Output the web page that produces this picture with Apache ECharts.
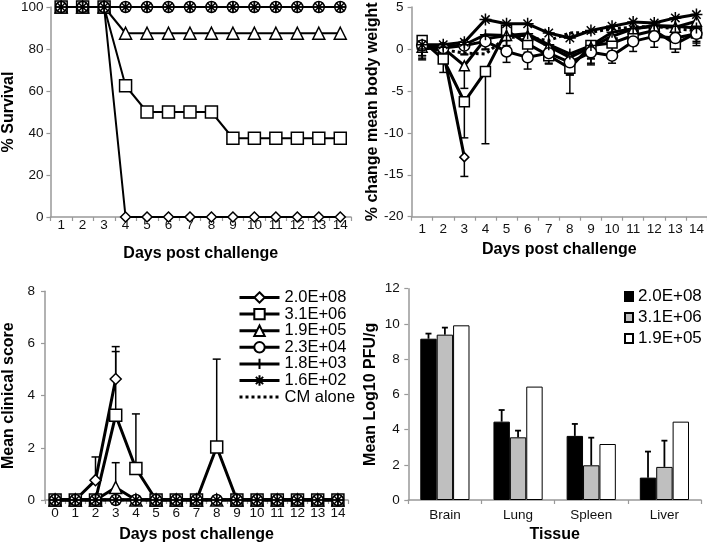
<!DOCTYPE html>
<html><head><meta charset="utf-8">
<script src="https://cdn.jsdelivr.net/npm/echarts@6/dist/echarts.min.js"></script>
<style>html,body{margin:0;padding:0;background:#fff}#c{width:707px;height:544px}</style>
</head><body><div id="c"></div>
<script>
// ---------- DATA ----------
const seriesNames = ['2.0E+08','3.1E+06','1.9E+05','2.3E+04','1.8E+03','1.6E+02','CM alone'];
const daysA = ['1','2','3','4','5','6','7','8','9','10','11','12','13','14'];
const daysB = ['0','1','2','3','4','5','6','7','8','9','10','11','12','13','14'];

// % survival, days 1-14
const surv208 = [100,100,100,0,0,0,0,0,0,0,0,0,0,0];
const surv306 = [100,100,100,62.5,50,50,50,50,37.5,37.5,37.5,37.5,37.5,37.5];
const surv195 = [100,100,100,87.5,87.5,87.5,87.5,87.5,87.5,87.5,87.5,87.5,87.5,87.5];
const surv234 = [100,100,100,100,100,100,100,100,100,100,100,100,100,100];
const surv183 = [100,100,100,100,100,100,100,100,100,100,100,100,100,100];
const surv162 = [100,100,100,100,100,100,100,100,100,100,100,100,100,100];
const survCM  = [100,100,100,100,100,100,100,100,100,100,100,100,100,100];

// % change mean body weight, days 1-14
const wt208 = [0.4,-0.3,-12.9,null,null,null,null,null,null,null,null,null,null,null];
const wt306 = [1.0,-1.2,-6.3,-2.7,2.2,0.6,-0.8,-2.3,0.4,0.7,1.6,2.2,0.6,1.9];
const wt195 = [0.2,0.1,-2.0,1.2,1.6,1.6,0.3,-1.0,0.2,1.5,2.4,2.7,2.6,3.3];
const wt234 = [0.4,0.1,0.4,0.9,-0.3,-1.0,-0.5,-1.6,-0.4,-0.8,0.9,1.5,1.3,1.8];
const wt183 = [0.0,0.2,0.5,1.7,1.6,1.8,0.5,-0.6,0.4,2.0,2.4,2.8,2.7,2.5];
const wt162 = [0.5,0.5,0.8,3.5,3.0,3.0,1.9,1.3,2.2,2.7,3.2,3.1,3.7,4.1];
const wtCM  = [0.3,-0.1,-0.5,-0.6,1.4,1.4,1.0,1.9,2.0,2.4,2.6,2.7,2.4,2.2];
// downward error (SD) on weight
const wtErr208 = [1.5,1.2,2.3,null,null,null,null,null,null,null,null,null,null,null];
const wtErr306 = [1.2,1.6,4.3,8.6,1.2,1.0,1.0,3.0,1.5,1.0,1.2,1.0,1.0,1.0];
const wtErr195 = [1.0,1.0,2.7,1.2,1.2,1.0,1.2,1.5,1.4,1.2,1.5,1.3,1.2,1.4];
const wtErr234 = [1.2,0.8,1.0,1.0,1.3,1.4,1.2,1.5,1.3,0.9,1.2,1.3,1.2,1.4];
const wtErr183 = [1.3,1.0,1.2,1.2,1.4,1.2,1.3,2.5,2.3,1.2,1.6,1.8,1.6,1.8];

// mean clinical score, days 0-14
const cs208 = [0,0,0.76,4.64,null,null,null,null,null,null,null,null,null,null,null];
const cs306 = [0,0,0,3.25,1.21,0,0,0,2.03,0,0,0,0,0,0];
const cs195 = [0,0,0,0.48,0,0,0,0,0,0,0,0,0,0,0];
const cs234 = [0,0,0,0,0,0,0,0,0,0,0,0,0,0,0];
const cs183 = [0,0,0,0,0,0,0,0,0,0,0,0,0,0,0];
const cs162 = [0,0,0,0,0,0,0,0,0,0,0,0,0,0,0];
const csCM  = [0,0,0,0,0,0,0,0,0,0,0,0,0,0,0];
// upper error bar ends
const csHigh208 = [null,null,1.65,5.88,null,null,null,null,null,null,null,null,null,null,null];
const csHigh306 = [null,null,null,5.69,3.30,null,null,null,5.40,null,null,null,null,null,null];
const csHigh195 = [null,null,null,1.43,null,null,null,null,null,null,null,null,null,null,null];

// tissue titres
const tissues = ['Brain','Lung','Spleen','Liver'];
const barNames = ['2.0E+08','3.1E+06','1.9E+05'];
const pfu208 = [9.16,4.45,3.64,1.27];
const pfu306 = [9.39,3.56,1.97,1.88];
const pfu195 = [9.92,6.44,3.18,4.45];
const pfuHigh208 = [9.45,5.11,4.32,2.75];
const pfuHigh306 = [9.79,3.94,3.54,3.37];

// ---------- STYLE ----------
const FONT = "'Liberation Sans', Arial, sans-serif";
const PLUS = 'path://M0,5L10,5M5,0L5,10';
const STAR = 'path://M0,5L10,5M5,0L5,10M1.5,1.5L8.5,8.5M8.5,1.5L1.5,8.5';
const symbols = ['diamond','rect','triangle','circle',PLUS,STAR,'none'];
const axisGray = '#999';

function catAxis(gi, data, nameGap, labelMargin, extra) {
  return Object.assign({
    type:'category', gridIndex:gi, data:data, boundaryGap:true,
    name:'Days post challenge', nameLocation:'middle', nameGap:nameGap,
    nameTextStyle:{fontFamily:FONT,fontSize:16,fontWeight:'bold',color:'#000'},
    axisLine:{onZero:false,lineStyle:{color:axisGray,width:1.5}},
    axisTick:{show:true,length:4,lineStyle:{color:axisGray,width:1.2}},
    axisLabel:{fontFamily:FONT,fontSize:13.5,color:'#111',margin:labelMargin,interval:0},
    splitLine:{show:false}
  }, extra||{});
}
function valAxis(gi, name, min, max, interval, nameGap, labelMargin) {
  return {
    type:'value', gridIndex:gi, min:min, max:max, interval:interval,
    name:name, nameLocation:'middle', nameGap:nameGap, nameRotate:90,
    nameTextStyle:{fontFamily:FONT,fontSize:16,fontWeight:'bold',color:'#000'},
    axisLine:{show:true,lineStyle:{color:axisGray,width:1.5}},
    axisTick:{show:true,length:4,lineStyle:{color:axisGray,width:1.2}},
    axisLabel:{fontFamily:FONT,fontSize:13.5,color:'#111',margin:labelMargin},
    splitLine:{show:false}
  };
}
function lineSeries(idx, data, gi, size, lw) {
  const isCM = idx === 6;
  return {
    type:'line', name:seriesNames[idx], xAxisIndex:gi, yAxisIndex:gi, data:data,
    symbol:symbols[idx], symbolSize:size, showSymbol:!isCM, connectNulls:false,
    lineStyle:{color:'#000', width:lw, type:isCM?'dotted':'solid'},
    itemStyle:{color:'#fff', borderColor:'#000', borderWidth:1.5},
    emphasis:{disabled:true}, z:3
  };
}
function errRender(offset, capHalf, lw) {
  return function(params, api) {
    const i = api.value(0);
    const p1 = api.coord([i, api.value(1)]);
    const p2 = api.coord([i, api.value(2)]);
    const x = p1[0] + offset;
    return {type:'group', children:[
      {type:'line', shape:{x1:x,y1:p1[1],x2:x,y2:p2[1]}, style:{stroke:'#000',lineWidth:lw}},
      {type:'line', shape:{x1:x-capHalf,y1:p2[1],x2:x+capHalf,y2:p2[1]}, style:{stroke:'#000',lineWidth:lw}}
    ]};
  };
}
function errSeries(gi, data, offset, capHalf, lw, z) {
  return {type:'custom', xAxisIndex:gi, yAxisIndex:gi, data:data, encode:{x:0,y:[1,2]},
    renderItem:errRender(offset,capHalf,lw), z:z, silent:true};
}
function errFromSD(vals, sd) {
  const out = [];
  vals.forEach((v,i)=>{ if (v!=null && sd[i]!=null) out.push([i, v, v - sd[i]]); });
  return out;
}
function errFromHigh(vals, hi) {
  const out = [];
  vals.forEach((v,i)=>{ if (v!=null && hi[i]!=null) out.push([i, v, hi[i]]); });
  return out;
}

const survData = [surv208,surv306,surv195,surv234,surv183,surv162,survCM];
const wtData = [wt208,wt306,wt195,wt234,wt183,wt162,wtCM];
const csData = [cs208,cs306,cs195,cs234,cs183,cs162,csCM];
const survSize = [10,12,12,11,11,12,0];
const wtSize = [9,10,10,11,11,12,0];
const csSize = [11,12,12,11,11,12,0];

const series = [];
survData.forEach((d,i)=>series.push(lineSeries(i,d,0,survSize[i],2)));
series.push(errSeries(1, errFromSD(wt208,wtErr208), 0, 4, 1.5, 2));
series.push(errSeries(1, errFromSD(wt306,wtErr306), 0, 4, 1.5, 2));
series.push(errSeries(1, errFromSD(wt195,wtErr195), 0, 4, 1.5, 2));
series.push(errSeries(1, errFromSD(wt234,wtErr234), 0, 4, 1.5, 2));
series.push(errSeries(1, errFromSD(wt183,wtErr183), 0, 4, 1.5, 2));
wtData.forEach((d,i)=>series.push(lineSeries(i,d,1,wtSize[i],3)));
series.push(errSeries(2, errFromHigh(cs208,csHigh208), 0, 4, 1.5, 2));
series.push(errSeries(2, errFromHigh(cs306,csHigh306), 0, 4, 1.5, 2));
series.push(errSeries(2, errFromHigh(cs195,csHigh195), 0, 4, 1.5, 2));
csData.forEach((d,i)=>series.push(lineSeries(i,d,2,csSize[i],3)));

const BW = 16.4;
const barFill = ['#000','#bfbfbf','#fff'];
[pfu208,pfu306,pfu195].forEach((d,i)=>series.push({
  type:'bar', name:'bar:'+barNames[i], xAxisIndex:3, yAxisIndex:3, data:d,
  barWidth:BW, barGap:'0%',
  itemStyle:{color:barFill[i], borderColor:'#000', borderWidth:1},
  emphasis:{disabled:true}, z:2
}));
series.push(errSeries(3, errFromHigh(pfu208,pfuHigh208), -BW, 3, 1.8, 3));
series.push(errSeries(3, errFromHigh(pfu306,pfuHigh306), 0, 3, 1.8, 3));

const legendLineData = seriesNames.map(n => n === 'CM alone'
  ? {name:n, itemStyle:{opacity:0}, lineStyle:{width:3}}
  : {name:n, lineStyle:{width:3}});

const option = {
  animation:false,
  backgroundColor:'#fff',
  textStyle:{fontFamily:FONT},
  grid:[
    {left:50, top:6, width:301, height:211},
    {left:411.6, top:6.7, width:298, height:210},
    {left:42, top:291.3, width:306, height:210},
    {left:408.3, top:288.7, width:292.7, height:211.3}
  ],
  xAxis:[
    catAxis(0, daysA, 29, 1),
    catAxis(1, daysA, 25, 6),
    catAxis(2, daysB, 27, 6),
    catAxis(3, tissues, 27, 8, {name:'Tissue'})
  ],
  yAxis:[
    valAxis(0, '% Survival', 0, 100, 20, 30, 7),
    valAxis(1, '% change mean body weight', -20, 5, 5, 29, 8),
    valAxis(2, 'Mean clinical score', 0, 8, 2, 28, 10),
    valAxis(3, 'Mean Log10 PFU/g', 0, 12, 2, 30, 8.5)
  ],
  legend:[
    {orient:'vertical', left:233, top:284, itemWidth:40, itemHeight:13, itemGap:-0.4,
     data:legendLineData, selectedMode:false,
     textStyle:{fontFamily:FONT,fontSize:16.5,color:'#000'}},
    {orient:'vertical', left:619, top:283, itemWidth:8, itemHeight:9, itemGap:4,
     data:barNames.map(n=>'bar:'+n), selectedMode:false, icon:'rect',
     formatter:n=>n.replace('bar:',''),
     textStyle:{fontFamily:FONT,fontSize:17,color:'#000'}}
  ],
  series:series
};
const chart = echarts.init(document.getElementById('c'), null, {renderer:'canvas'});
chart.setOption(option);
</script></body></html>
